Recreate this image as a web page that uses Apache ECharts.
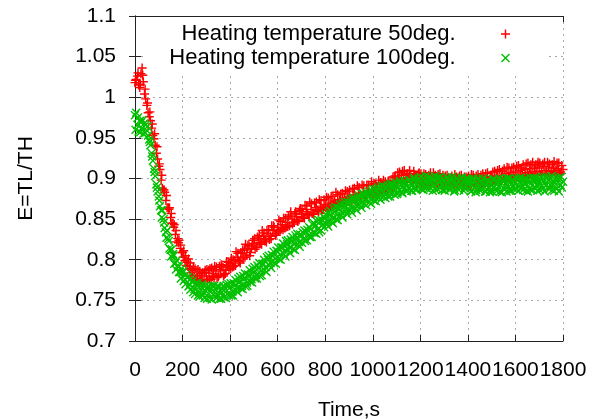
<!DOCTYPE html>
<html>
<head>
<meta charset="utf-8">
<script src="https://cdn.jsdelivr.net/npm/echarts@6/dist/echarts.min.js"></script>
<style>
  html, body { margin: 0; padding: 0; background: #fff; }
  #chart { width: 595px; height: 419px; }
</style>
</head>
<body>
<div id="chart"></div>
<script>
// Readings are stored in three interleaved sets per run:
// on the 10 s marks (t = 0, 10, ...), at t = 2.5, 12.5, ... and at t = 5, 15, ...
const timeStep = 10;

// Axis ticks
const xTicks = [0, 200, 400, 600, 800, 1000, 1200, 1400, 1600, 1800];
const yTicks = [0.7, 0.75, 0.8, 0.85, 0.9, 0.95, 1.0, 1.05, 1.1];

const seriesNames = ['Heating temperature 50deg.', 'Heating temperature 100deg.'];

// E = TL/TH, heating temperature 50 deg, t = 0, 10, ..., 1800 s
const eff50 = [
  1.018, 1.026, 1.012, 1.036, 1.004, 0.990, 0.976, 0.962, 0.949, 0.931,
  0.915, 0.898, 0.886, 0.873, 0.864, 0.852, 0.845, 0.831, 0.826, 0.814,
  0.809, 0.799, 0.797, 0.789, 0.787, 0.780, 0.781, 0.775, 0.783, 0.774,
  0.780, 0.787, 0.776, 0.783, 0.786, 0.779, 0.788, 0.791, 0.783, 0.793,
  0.795, 0.791, 0.799, 0.803, 0.798, 0.808, 0.812, 0.806, 0.817, 0.814,
  0.820, 0.817, 0.826, 0.821, 0.829, 0.825, 0.832, 0.829, 0.836, 0.832,
  0.840, 0.835, 0.843, 0.839, 0.846, 0.842, 0.850, 0.846, 0.853, 0.849,
  0.856, 0.852, 0.859, 0.855, 0.862, 0.857, 0.864, 0.860, 0.866, 0.862,
  0.868, 0.864, 0.870, 0.866, 0.872, 0.868, 0.874, 0.870, 0.876, 0.872,
  0.878, 0.874, 0.880, 0.876, 0.882, 0.877, 0.883, 0.879, 0.885, 0.881,
  0.886, 0.882, 0.888, 0.884, 0.889, 0.885, 0.891, 0.887, 0.892, 0.889,
  0.897, 0.900, 0.904, 0.899, 0.905, 0.901, 0.903, 0.898, 0.904, 0.900,
  0.902, 0.897, 0.903, 0.899, 0.901, 0.896, 0.902, 0.898, 0.900, 0.895,
  0.899, 0.894, 0.900, 0.896, 0.898, 0.893, 0.899, 0.895, 0.897, 0.892,
  0.898, 0.894, 0.899, 0.893, 0.897, 0.895, 0.900, 0.896, 0.901, 0.897,
  0.902, 0.898, 0.903, 0.899, 0.904, 0.900, 0.906, 0.902, 0.907, 0.903,
  0.908, 0.904, 0.910, 0.905, 0.911, 0.907, 0.912, 0.908, 0.914, 0.909,
  0.913, 0.908, 0.915, 0.910, 0.913, 0.909, 0.914, 0.910, 0.912, 0.908,
  0.911
];
// heating temperature 50 deg, t = 2.5, 12.5, ..., 1792.5 s
const eff50Quarter = [
  1.021, 1.030, 1.016, 1.027, 1.010, 0.993, 0.982, 0.967, 0.955, 0.939,
  0.918, 0.904, 0.886, 0.879, 0.862, 0.857, 0.840, 0.836, 0.821, 0.818,
  0.803, 0.805, 0.792, 0.796, 0.781, 0.789, 0.777, 0.786, 0.773, 0.784,
  0.788, 0.776, 0.790, 0.778, 0.791, 0.781, 0.794, 0.780, 0.787, 0.797,
  0.789, 0.800, 0.793, 0.808, 0.796, 0.812, 0.803, 0.814, 0.805, 0.818,
  0.826, 0.815, 0.830, 0.819, 0.833, 0.822, 0.837, 0.826, 0.842, 0.830,
  0.835, 0.847, 0.837, 0.851, 0.841, 0.855, 0.844, 0.857, 0.848, 0.861,
  0.862, 0.851, 0.866, 0.854, 0.869, 0.856, 0.871, 0.859, 0.873, 0.862,
  0.864, 0.876, 0.866, 0.878, 0.868, 0.880, 0.870, 0.882, 0.872, 0.884,
  0.886, 0.873, 0.888, 0.875, 0.889, 0.878, 0.891, 0.879, 0.892, 0.881,
  0.880, 0.893, 0.883, 0.895, 0.884, 0.896, 0.885, 0.897, 0.889, 0.903,
  0.895, 0.908, 0.897, 0.910, 0.899, 0.906, 0.897, 0.909, 0.898, 0.906,
  0.906, 0.893, 0.905, 0.892, 0.907, 0.894, 0.904, 0.891, 0.906, 0.893,
  0.892, 0.904, 0.891, 0.903, 0.890, 0.902, 0.892, 0.904, 0.889, 0.902,
  0.903, 0.890, 0.904, 0.891, 0.905, 0.892, 0.906, 0.893, 0.907, 0.894,
  0.896, 0.909, 0.897, 0.911, 0.898, 0.912, 0.899, 0.913, 0.900, 0.914,
  0.902, 0.916, 0.903, 0.917, 0.904, 0.919, 0.905, 0.920, 0.906, 0.917,
  0.919, 0.904, 0.920, 0.906, 0.918, 0.905, 0.921, 0.907, 0.919, 0.906
];
// heating temperature 50 deg, t = 5, 15, ..., 1795 s
const eff50Mid = [
  1.022, 1.015, 1.029, 1.019, 0.998, 0.981, 0.971, 0.953, 0.941, 0.924,
  0.911, 0.888, 0.883, 0.864, 0.864, 0.845, 0.843, 0.822, 0.824, 0.809,
  0.811, 0.793, 0.801, 0.784, 0.791, 0.775, 0.788, 0.775, 0.784, 0.787,
  0.775, 0.789, 0.779, 0.792, 0.778, 0.792, 0.791, 0.782, 0.798, 0.788,
  0.802, 0.792, 0.810, 0.799, 0.809, 0.801, 0.819, 0.818, 0.809, 0.824,
  0.813, 0.828, 0.821, 0.836, 0.823, 0.836, 0.825, 0.842, 0.840, 0.833,
  0.849, 0.838, 0.851, 0.840, 0.853, 0.859, 0.846, 0.859, 0.847, 0.863,
  0.852, 0.867, 0.857, 0.871, 0.857, 0.870, 0.861, 0.874, 0.861, 0.874,
  0.877, 0.865, 0.878, 0.869, 0.883, 0.870, 0.881, 0.871, 0.885, 0.876,
  0.875, 0.887, 0.876, 0.891, 0.881, 0.892, 0.878, 0.892, 0.883, 0.896,
  0.894, 0.884, 0.898, 0.886, 0.898, 0.886, 0.897, 0.888, 0.902, 0.901,
  0.907, 0.897, 0.909, 0.895, 0.906, 0.910, 0.896, 0.905, 0.894, 0.907,
  0.894, 0.906, 0.891, 0.904, 0.895, 0.907, 0.893, 0.905, 0.892, 0.904,
  0.903, 0.890, 0.901, 0.892, 0.905, 0.893, 0.903, 0.889, 0.902, 0.891,
  0.891, 0.905, 0.892, 0.903, 0.890, 0.904, 0.893, 0.906, 0.891, 0.902,
  0.908, 0.896, 0.910, 0.898, 0.909, 0.897, 0.914, 0.901, 0.913, 0.900,
  0.915, 0.901, 0.913, 0.901, 0.918, 0.904, 0.917, 0.902, 0.917, 0.920,
  0.905, 0.918, 0.906, 0.920, 0.904, 0.917, 0.907, 0.919, 0.905, 0.916
];

// E = TL/TH, heating temperature 100 deg, t = 0, 10, ..., 1800 s
const eff100 = [
  0.978, 0.966, 0.971, 0.962, 0.968, 0.959, 0.948, 0.931, 0.912, 0.893,
  0.878, 0.861, 0.850, 0.834, 0.826, 0.812, 0.807, 0.796, 0.793, 0.785,
  0.784, 0.776, 0.778, 0.769, 0.773, 0.764, 0.768, 0.760, 0.766, 0.759,
  0.765, 0.758, 0.764, 0.757, 0.763, 0.756, 0.762, 0.757, 0.764, 0.758,
  0.766, 0.761, 0.769, 0.765, 0.773, 0.768, 0.777, 0.772, 0.781, 0.776,
  0.785, 0.781, 0.790, 0.786, 0.795, 0.791, 0.800, 0.796, 0.805, 0.801,
  0.810, 0.806, 0.815, 0.811, 0.819, 0.815, 0.823, 0.819, 0.827, 0.822,
  0.830, 0.826, 0.834, 0.830, 0.838, 0.834, 0.842, 0.838, 0.847, 0.843,
  0.851, 0.847, 0.855, 0.851, 0.859, 0.855, 0.863, 0.858, 0.866, 0.861,
  0.869, 0.864, 0.872, 0.867, 0.875, 0.870, 0.877, 0.873, 0.879, 0.875,
  0.882, 0.877, 0.884, 0.879, 0.886, 0.881, 0.888, 0.883, 0.889, 0.885,
  0.891, 0.886, 0.892, 0.887, 0.893, 0.888, 0.894, 0.889, 0.895, 0.890,
  0.896, 0.891, 0.897, 0.892, 0.897, 0.892, 0.898, 0.893, 0.897, 0.892,
  0.898, 0.893, 0.897, 0.891, 0.896, 0.892, 0.897, 0.891, 0.896, 0.890,
  0.895, 0.890, 0.896, 0.889, 0.894, 0.890, 0.895, 0.889, 0.894, 0.890,
  0.895, 0.889, 0.894, 0.890, 0.895, 0.888, 0.894, 0.890, 0.896, 0.891,
  0.895, 0.890, 0.896, 0.891, 0.895, 0.890, 0.896, 0.891, 0.897, 0.892,
  0.896, 0.891, 0.897, 0.892, 0.898, 0.891, 0.897, 0.893, 0.899, 0.892,
  0.896
];
// heating temperature 100 deg, t = 2.5, 12.5, ..., 1792.5 s
const eff100Quarter = [
  0.960, 0.975, 0.957, 0.972, 0.956, 0.964, 0.945, 0.927, 0.908, 0.889,
  0.873, 0.852, 0.846, 0.827, 0.823, 0.804, 0.805, 0.788, 0.791, 0.777,
  0.786, 0.770, 0.779, 0.763, 0.774, 0.758, 0.771, 0.755, 0.770, 0.753,
  0.752, 0.767, 0.751, 0.768, 0.753, 0.767, 0.752, 0.768, 0.753, 0.770,
  0.771, 0.756, 0.775, 0.760, 0.779, 0.764, 0.783, 0.768, 0.787, 0.772,
  0.791, 0.777, 0.796, 0.781, 0.800, 0.785, 0.805, 0.790, 0.810, 0.795,
  0.815, 0.800, 0.820, 0.804, 0.824, 0.808, 0.828, 0.812, 0.832, 0.816,
  0.821, 0.836, 0.824, 0.840, 0.828, 0.845, 0.832, 0.849, 0.836, 0.853,
  0.856, 0.841, 0.860, 0.845, 0.865, 0.849, 0.868, 0.852, 0.871, 0.856,
  0.874, 0.858, 0.876, 0.861, 0.879, 0.864, 0.881, 0.867, 0.884, 0.869,
  0.887, 0.872, 0.889, 0.874, 0.891, 0.876, 0.892, 0.878, 0.893, 0.880,
  0.881, 0.895, 0.883, 0.897, 0.884, 0.898, 0.885, 0.899, 0.886, 0.900,
  0.902, 0.886, 0.903, 0.887, 0.901, 0.885, 0.903, 0.887, 0.902, 0.886,
  0.885, 0.901, 0.886, 0.902, 0.884, 0.900, 0.886, 0.901, 0.885, 0.900,
  0.899, 0.884, 0.900, 0.883, 0.899, 0.885, 0.900, 0.884, 0.898, 0.883,
  0.884, 0.899, 0.885, 0.900, 0.883, 0.899, 0.884, 0.900, 0.885, 0.898,
  0.900, 0.885, 0.901, 0.886, 0.899, 0.884, 0.901, 0.886, 0.900, 0.885,
  0.886, 0.902, 0.884, 0.901, 0.887, 0.903, 0.885, 0.900, 0.884, 0.902
];
// heating temperature 100 deg, t = 5, 15, ..., 1795 s
const eff100Mid = [
  0.981, 0.958, 0.969, 0.955, 0.966, 0.953, 0.941, 0.922, 0.903, 0.884,
  0.866, 0.861, 0.839, 0.836, 0.814, 0.813, 0.795, 0.799, 0.785, 0.789,
  0.774, 0.782, 0.767, 0.777, 0.760, 0.771, 0.756, 0.768, 0.756, 0.768,
  0.766, 0.753, 0.768, 0.755, 0.767, 0.752, 0.765, 0.754, 0.769, 0.756,
  0.756, 0.771, 0.762, 0.777, 0.765, 0.780, 0.767, 0.782, 0.773, 0.789,
  0.777, 0.793, 0.780, 0.795, 0.787, 0.803, 0.793, 0.806, 0.796, 0.811,
  0.801, 0.815, 0.807, 0.823, 0.812, 0.825, 0.813, 0.830, 0.819, 0.831,
  0.834, 0.823, 0.837, 0.828, 0.844, 0.833, 0.847, 0.834, 0.849, 0.840,
  0.844, 0.858, 0.847, 0.863, 0.850, 0.864, 0.855, 0.869, 0.859, 0.871,
  0.861, 0.875, 0.863, 0.877, 0.868, 0.881, 0.869, 0.882, 0.871, 0.885,
  0.873, 0.887, 0.877, 0.890, 0.878, 0.890, 0.878, 0.893, 0.882, 0.895,
  0.883, 0.897, 0.882, 0.896, 0.886, 0.898, 0.885, 0.901, 0.887, 0.899,
  0.887, 0.900, 0.889, 0.902, 0.888, 0.899, 0.886, 0.901, 0.889, 0.900,
  0.888, 0.901, 0.887, 0.899, 0.886, 0.900, 0.889, 0.901, 0.888, 0.899,
  0.898, 0.885, 0.897, 0.886, 0.900, 0.887, 0.899, 0.884, 0.897, 0.886,
  0.899, 0.886, 0.897, 0.884, 0.898, 0.887, 0.900, 0.885, 0.898, 0.887,
  0.887, 0.900, 0.888, 0.899, 0.885, 0.898, 0.886, 0.901, 0.888, 0.899,
  0.900, 0.887, 0.902, 0.889, 0.900, 0.886, 0.899, 0.888, 0.901, 0.889
];

// Merge the three reading sets into time-ordered [time, value] points
function toPoints(onMarks, quarter, mid) {
  const pts = [];
  onMarks.forEach((v, i) => {
    const t = i * timeStep;
    pts.push([t, v]);
    if (i < quarter.length) pts.push([t + timeStep / 4, quarter[i]]);
    if (i < mid.length) pts.push([t + timeStep / 2, mid[i]]);
  });
  return pts;
}

// "+" and "x" markers built from bars
const plusPath = 'path://M0,4.2H10V5.8H0Z M4.2,0H5.8V10H4.2Z';
const crossPath = 'path://M0,1.1L1.1,0L10,8.9L8.9,10Z M8.9,0L10,1.1L1.1,10L0,8.9Z';

const font = 'Liberation Sans, Arial, sans-serif';
const frameColor = '#222';
const gridLine = { show: true, lineStyle: { color: '#a8a8a8', width: 1, type: [2, 4] } };
const tickIn = { show: true, inside: true, length: 6, lineStyle: { color: frameColor, width: 1 } };

const chart = echarts.init(document.getElementById('chart'), null, { renderer: 'canvas' });

chart.setOption({
  animation: false,
  backgroundColor: '#fff',
  textStyle: { fontFamily: font },
  grid: { left: 135, right: 32, top: 16, bottom: 78, containLabel: false, outerBoundsMode: 'none' },
  graphic: [{
    type: 'rect',
    z: 1,
    silent: true,
    shape: { x: 146, y: 17, width: 402, height: 55 },
    style: { fill: '#fff' }
  }],
  legend: {
    orient: 'vertical',
    align: 'right',
    right: 85,
    top: 22,
    itemWidth: 90,
    itemHeight: 9,
    itemGap: 0,
    padding: 0,
    selectedMode: false,
    textStyle: { fontFamily: font, fontSize: 22, color: '#000', lineHeight: 24 },
    data: seriesNames
  },
  xAxis: [{
    type: 'value',
    position: 'bottom',
    min: xTicks[0],
    max: xTicks[xTicks.length - 1],
    interval: xTicks[1] - xTicks[0],
    name: 'Time,s',
    nameLocation: 'middle',
    nameGap: 59,
    nameTextStyle: { fontFamily: font, fontSize: 21, color: '#000' },
    axisLine: { show: true, lineStyle: { color: frameColor, width: 1 } },
    axisTick: tickIn,
    axisLabel: {
      fontFamily: font, fontSize: 21, color: '#000', margin: 19,
      showMinLabel: true, showMaxLabel: true, hideOverlap: false,
      formatter: v => String(v)
    },
    splitLine: gridLine
  }, {
    type: 'value',
    position: 'top',
    min: xTicks[0],
    max: xTicks[xTicks.length - 1],
    interval: xTicks[1] - xTicks[0],
    axisLine: { show: true, lineStyle: { color: frameColor, width: 1 } },
    axisTick: tickIn,
    axisLabel: { show: false },
    splitLine: { show: false }
  }],
  yAxis: [{
    type: 'value',
    position: 'left',
    min: yTicks[0],
    max: yTicks[yTicks.length - 1],
    interval: 0.05,
    name: 'E=TL/TH',
    nameLocation: 'middle',
    nameGap: 98,
    nameRotate: 90,
    nameTextStyle: { fontFamily: font, fontSize: 21, color: '#000' },
    axisLine: { show: true, lineStyle: { color: frameColor, width: 1 } },
    axisTick: tickIn,
    axisLabel: {
      fontFamily: font, fontSize: 21, color: '#000', margin: 19,
      showMinLabel: true, showMaxLabel: true,
      formatter: v => String(+v.toFixed(2))
    },
    splitLine: gridLine
  }, {
    type: 'value',
    position: 'right',
    min: yTicks[0],
    max: yTicks[yTicks.length - 1],
    interval: 0.05,
    axisLine: { show: true, lineStyle: { color: frameColor, width: 1 } },
    axisTick: tickIn,
    axisLabel: { show: false },
    splitLine: { show: false }
  }],
  series: [{
    name: seriesNames[0],
    type: 'scatter',
    xAxisIndex: 0,
    yAxisIndex: 0,
    symbol: plusPath,
    symbolSize: 9,
    itemStyle: { color: '#ff0000', opacity: 1 },
    data: toPoints(eff50, eff50Quarter, eff50Mid),
    z: 2
  }, {
    name: seriesNames[1],
    type: 'scatter',
    xAxisIndex: 0,
    yAxisIndex: 0,
    symbol: crossPath,
    symbolSize: 9,
    itemStyle: { color: '#00c000', opacity: 1 },
    data: toPoints(eff100, eff100Quarter, eff100Mid),
    z: 3
  }]
});
</script>
</body>
</html>
